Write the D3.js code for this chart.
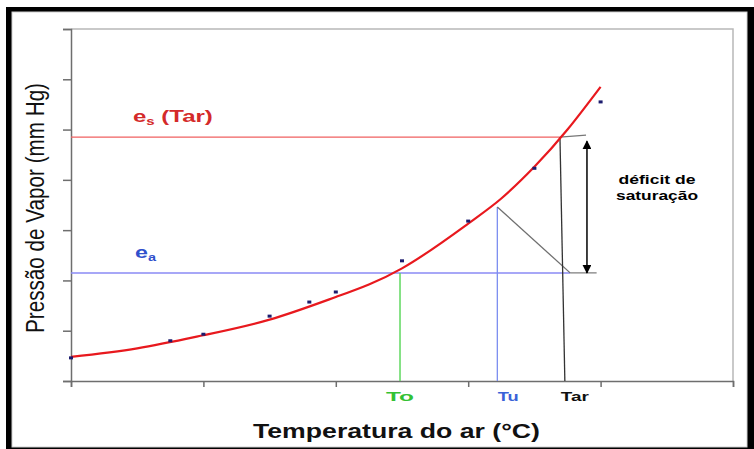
<!DOCTYPE html>
<html>
	<head>
		<meta charset="utf-8">
		<script type="text/javascript" src="https://cdn.jsdelivr.net/npm/d3@7"></script>
		<style>
			body { margin: 0; background: #fff; }
			text { font-family: "Liberation Sans", Arial, sans-serif; }
		</style>
	</head>
<body>
	<script type="text/javascript">
		// measured points (temperature in degC, pressure in mm Hg)
		var pointTemps = [0, 7.5, 10, 15, 18, 20, 25, 30, 35, 40];
		var pointPress = [4.6, 8.0, 9.3, 12.9, 15.7, 17.7, 23.9, 31.8, 42.3, 55.5];

		// red trend curve
		var curveTemps = [0, 5, 10, 15, 20, 25, 30, 32.5, 35, 37.5, 40];
		var curvePress = [4.8, 6.5, 9.1, 12.2, 16.7, 22.4, 31.3, 36.3, 42.6, 50.0, 58.5];

		// annotation values
		var esTar = 48.5;
		var ea = 21.5;
		var tempTo = 24.85;
		var tempTu = 32.2;
		var pressTu = 34.6;
		var tempTarTop = 36.93;
		var tempTarBottom = 37.3;
		var tempEaEnd = 37.7;
		var tempArrow = 38.97;
		var tempEsTick = 38.9;
		var tempEaTick = 39.7;

		var xTicks = [0, 10, 20, 30, 40, 50];
		var yTicks = [0, 10, 20, 30, 40, 50, 60, 70];

		var w = 754;
		var h = 449;
		var plot = { left: 71, right: 733, top: 29, bottom: 381 };

		var svg = d3.select("body")
			.append("svg")
			.attr("width", w)
			.attr("height", h);

		// outer frame
		svg.append("rect")
			.attr("x", 6).attr("y", 7)
			.attr("width", 748).attr("height", 442)
			.attr("fill", "#000");
		svg.append("rect")
			.attr("x", 12).attr("y", 12)
			.attr("width", 735).attr("height", 435)
			.attr("fill", "#fff")
			.attr("stroke", "#d0d0d0")
			.attr("stroke-width", 1);

		var defs = svg.append("defs");
		defs.append("marker")
			.attr("id", "arrow")
			.attr("viewBox", "0 0 10 10")
			.attr("refX", 9).attr("refY", 5)
			.attr("markerWidth", 9).attr("markerHeight", 9)
			.attr("markerUnits", "userSpaceOnUse")
			.attr("orient", "auto-start-reverse")
			.append("path")
			.attr("d", "M0,0L10,5L0,10Z")
			.attr("fill", "#000");

		var xScale = d3.scaleLinear()
			.domain([0, 50])
			.range([plot.left, plot.right]);

		var yScale = d3.scaleLinear()
			.domain([0, 70])
			.range([plot.bottom, plot.top]);

		// plot border (top, right)
		svg.append("path")
			.attr("d", "M" + plot.left + "," + plot.top + "H" + plot.right + "V" + plot.bottom)
			.attr("fill", "none")
			.attr("stroke", "#b8b8b8")
			.attr("stroke-width", 1.5);

		var xAxis = d3.axisBottom(xScale)
			.tickValues(xTicks)
			.tickSize(6)
			.tickFormat("");

		svg.append("g")
			.attr("transform", "translate(0," + plot.bottom + ")")
			.call(xAxis)
			.call(function (g) {
				g.selectAll("path, line").attr("stroke", "#6e6e6e").attr("stroke-width", 1.5);
			});

		var yAxis = d3.axisLeft(yScale)
			.tickValues(yTicks)
			.tickSize(8)
			.tickFormat("");

		svg.append("g")
			.attr("transform", "translate(" + plot.left + ",0)")
			.call(yAxis)
			.call(function (g) {
				g.selectAll("path, line").attr("stroke", "#6e6e6e").attr("stroke-width", 1.5);
			});

		// es(Tar) horizontal
		svg.append("line")
			.attr("x1", xScale(0)).attr("x2", xScale(tempTarTop))
			.attr("y1", yScale(esTar)).attr("y2", yScale(esTar))
			.attr("stroke", "#f06060").attr("stroke-width", 1.2);
		svg.append("line")
			.attr("x1", xScale(tempTarTop)).attr("x2", xScale(tempEsTick))
			.attr("y1", yScale(esTar)).attr("y2", yScale(esTar + 0.4))
			.attr("stroke", "#777").attr("stroke-width", 1.2);

		// ea horizontal
		svg.append("line")
			.attr("x1", xScale(0)).attr("x2", xScale(tempEaEnd))
			.attr("y1", yScale(ea)).attr("y2", yScale(ea))
			.attr("stroke", "#8a8af5").attr("stroke-width", 1.5);
		svg.append("line")
			.attr("x1", xScale(tempEaEnd)).attr("x2", xScale(tempEaTick))
			.attr("y1", yScale(ea)).attr("y2", yScale(ea))
			.attr("stroke", "#777").attr("stroke-width", 1.2);

		// To
		svg.append("line")
			.attr("x1", xScale(tempTo)).attr("x2", xScale(tempTo))
			.attr("y1", yScale(ea)).attr("y2", yScale(0))
			.attr("stroke", "#5fd85f").attr("stroke-width", 1.5);

		// Tu and the diagonal
		svg.append("line")
			.attr("x1", xScale(tempTu)).attr("x2", xScale(tempTu))
			.attr("y1", yScale(pressTu)).attr("y2", yScale(0))
			.attr("stroke", "#7b8ef0").attr("stroke-width", 1.3);
		svg.append("line")
			.attr("x1", xScale(tempTu)).attr("x2", xScale(tempEaEnd))
			.attr("y1", yScale(pressTu)).attr("y2", yScale(ea))
			.attr("stroke", "#707070").attr("stroke-width", 1.3);

		// Tar
		svg.append("line")
			.attr("x1", xScale(tempTarTop)).attr("x2", xScale(tempTarBottom))
			.attr("y1", yScale(esTar)).attr("y2", yScale(0))
			.attr("stroke", "#333").attr("stroke-width", 1.3);

		// deficit arrow
		svg.append("line")
			.attr("x1", xScale(tempArrow)).attr("x2", xScale(tempArrow))
			.attr("y1", yScale(esTar - 0.8)).attr("y2", yScale(ea))
			.attr("stroke", "#000").attr("stroke-width", 1.5)
			.attr("marker-start", "url(#arrow)")
			.attr("marker-end", "url(#arrow)");

		// trend curve
		var curve = d3.range(curveTemps.length).map(function (i) {
			return [curveTemps[i], curvePress[i]];
		});
		var line = d3.line()
			.x(function (d) { return xScale(d[0]); })
			.y(function (d) { return yScale(d[1]); })
			.curve(d3.curveNatural);

		svg.append("path")
			.datum(curve)
			.attr("fill", "none")
			.attr("stroke", "#e8191e")
			.attr("stroke-width", 2.2)
			.attr("d", line);

		// measured points
		svg.selectAll(".pt")
			.data(pointTemps)
			.enter()
			.append("rect")
			.attr("class", "pt")
			.attr("x", function (d) { return xScale(d) - 2; })
			.attr("y", function (d, i) { return yScale(pointPress[i]) - 1.5; })
			.attr("width", 4)
			.attr("height", 3)
			.attr("fill", "#1c1c6e");

		// labels (the source picture is stretched sideways, hence the scale)
		var es = svg.append("text")
			.attr("transform", "translate(133," + (yScale(esTar) - 15) + ") scale(1.5,1)")
			.attr("fill", "#d42a2a")
			.attr("font-size", 16)
			.attr("font-weight", "bold");
		es.append("tspan").text("e");
		es.append("tspan").attr("font-size", 10).attr("dy", 3).text("s");
		es.append("tspan").attr("dy", -3).text(" (Tar)");

		var eaLabel = svg.append("text")
			.attr("transform", "translate(135," + (yScale(ea) - 15) + ") scale(1.45,1)")
			.attr("fill", "#3050cc")
			.attr("font-size", 16)
			.attr("font-weight", "bold");
		eaLabel.append("tspan").text("e");
		eaLabel.append("tspan").attr("font-size", 10).attr("dy", 3).text("a");

		svg.append("text")
			.attr("x", 657).attr("y", 184)
			.attr("text-anchor", "middle")
			.attr("font-size", 13)
			.attr("font-weight", "bold")
			.attr("textLength", 77)
			.attr("lengthAdjust", "spacingAndGlyphs")
			.text("déficit de");
		svg.append("text")
			.attr("x", 657).attr("y", 200)
			.attr("text-anchor", "middle")
			.attr("font-size", 13)
			.attr("font-weight", "bold")
			.attr("textLength", 82)
			.attr("lengthAdjust", "spacingAndGlyphs")
			.text("saturação");

		var tempLabels = [
			{ t: tempTo, name: "To", color: "#33c133", dx: 0, len: 28 },
			{ t: tempTu, name: "Tu", color: "#3a62d8", dx: 11, len: 21 },
			{ t: tempTarBottom, name: "Tar", color: "#111", dx: 10, len: 28 }
		];
		svg.selectAll(".tl")
			.data(tempLabels)
			.enter()
			.append("text")
			.attr("class", "tl")
			.attr("x", function (d) { return xScale(d.t) + d.dx - d.len / 2; })
			.attr("y", 401)
			.attr("font-size", 13)
			.attr("font-weight", "bold")
			.attr("fill", function (d) { return d.color; })
			.attr("textLength", function (d) { return d.len; })
			.attr("lengthAdjust", "spacingAndGlyphs")
			.text(function (d) { return d.name; });

		svg.append("text")
			.attr("x", 253).attr("y", 438)
			.attr("font-size", 20)
			.attr("font-weight", "bold")
			.attr("fill", "#111")
			.attr("textLength", 287)
			.attr("lengthAdjust", "spacingAndGlyphs")
			.text("Temperatura do ar (°C)");

		svg.append("text")
			.attr("transform", "translate(44,208) rotate(-90) scale(1,1.3)")
			.attr("text-anchor", "middle")
			.attr("font-size", 20)
			.attr("fill", "#111")
			.attr("textLength", 250)
			.attr("lengthAdjust", "spacingAndGlyphs")
			.text("Pressão de Vapor (mm Hg)");
	</script>
</body>
</html>
